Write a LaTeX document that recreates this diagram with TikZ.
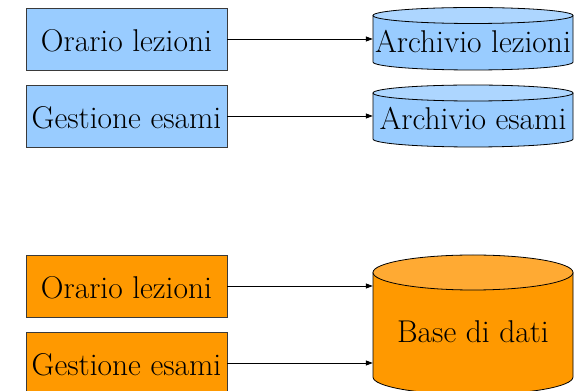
\documentclass[tikz,border=0pt]{standalone}
\usepackage{fontspec}
\newfontfamily\timesface{Latin Modern Roman}
\usetikzlibrary{arrows.meta}
\definecolor{boxblue}{HTML}{99CCFF}
\definecolor{topblue}{HTML}{ADD6FF}
\definecolor{boxorange}{HTML}{FF9900}
\definecolor{toporange}{HTML}{FFAA33}
\definecolor{boxedge}{HTML}{3A3A3A}
\newcommand\mycylinder[6]{%
  \fill[#5] (#1-100,#2) -- (#1-100,#3)
    arc[start angle=180,end angle=360,x radius=100pt,y radius=#4pt]
    -- (#1+100,#2) -- cycle;
  \draw[cyledge] (#1-100,#2) -- (#1-100,#3)
    arc[start angle=180,end angle=360,x radius=100pt,y radius=#4pt]
    -- (#1+100,#2);
  \filldraw[cyledge,fill=#6] (#1,#2) ellipse[x radius=100pt,y radius=#4pt];
}
\begin{document}
\begin{tikzpicture}[x=1pt,y=1pt,
  txt/.style={font=\timesface\fontsize{31.5}{38}\selectfont,inner sep=0pt,text depth=0pt},
  procbox/.style={txt,draw=boxedge,line width=0.8pt,minimum width=201pt,minimum height=62pt,text height=26pt},
  cylnode/.style={txt,minimum width=200pt,text height=28pt},
  cyledge/.style={draw=black,line width=0.8pt},
  arr/.style={draw=black,line width=0.8pt,-{Triangle[length=7pt,width=5pt]}}]
\useasboundingbox (0,0) rectangle (574,391);
\clip (0,0) rectangle (574,391);
% top part
\node[procbox,fill=boxblue] (ol1) at (126.5,352) {Orario lezioni};
\node[procbox,fill=boxblue] (ge1) at (126.5,275) {Gestione esami};
\mycylinder{473}{375.5}{329}{8}{boxblue}{topblue}
\mycylinder{473}{298}{252}{8}{boxblue}{topblue}
\node[cylnode,minimum height=62pt] (al) at (473,352) {Archivio lezioni};
\node[cylnode,minimum height=62pt,text height=27pt] (ae) at (473,275) {Archivio esami};
\draw[arr] (ol1.east) -- (ol1.east -| al.west);
\draw[arr] (ge1.east) -- (ge1.east -| ae.west);
% bottom part
\node[procbox,fill=boxorange] (ol2) at (126.5,105) {Orario lezioni};
\node[procbox,fill=boxorange] (ge2) at (126.5,28) {Gestione esami};
\mycylinder{473}{118.5}{14}{17.5}{boxorange}{toporange}
\node[cylnode,minimum height=120pt,text height=26pt] (db) at (473,61) {Base di dati};
\draw[arr] (ol2.east) -- (ol2.east -| db.west);
\draw[arr] (ge2.east) -- (ge2.east -| db.west);
\end{tikzpicture}
\end{document}
